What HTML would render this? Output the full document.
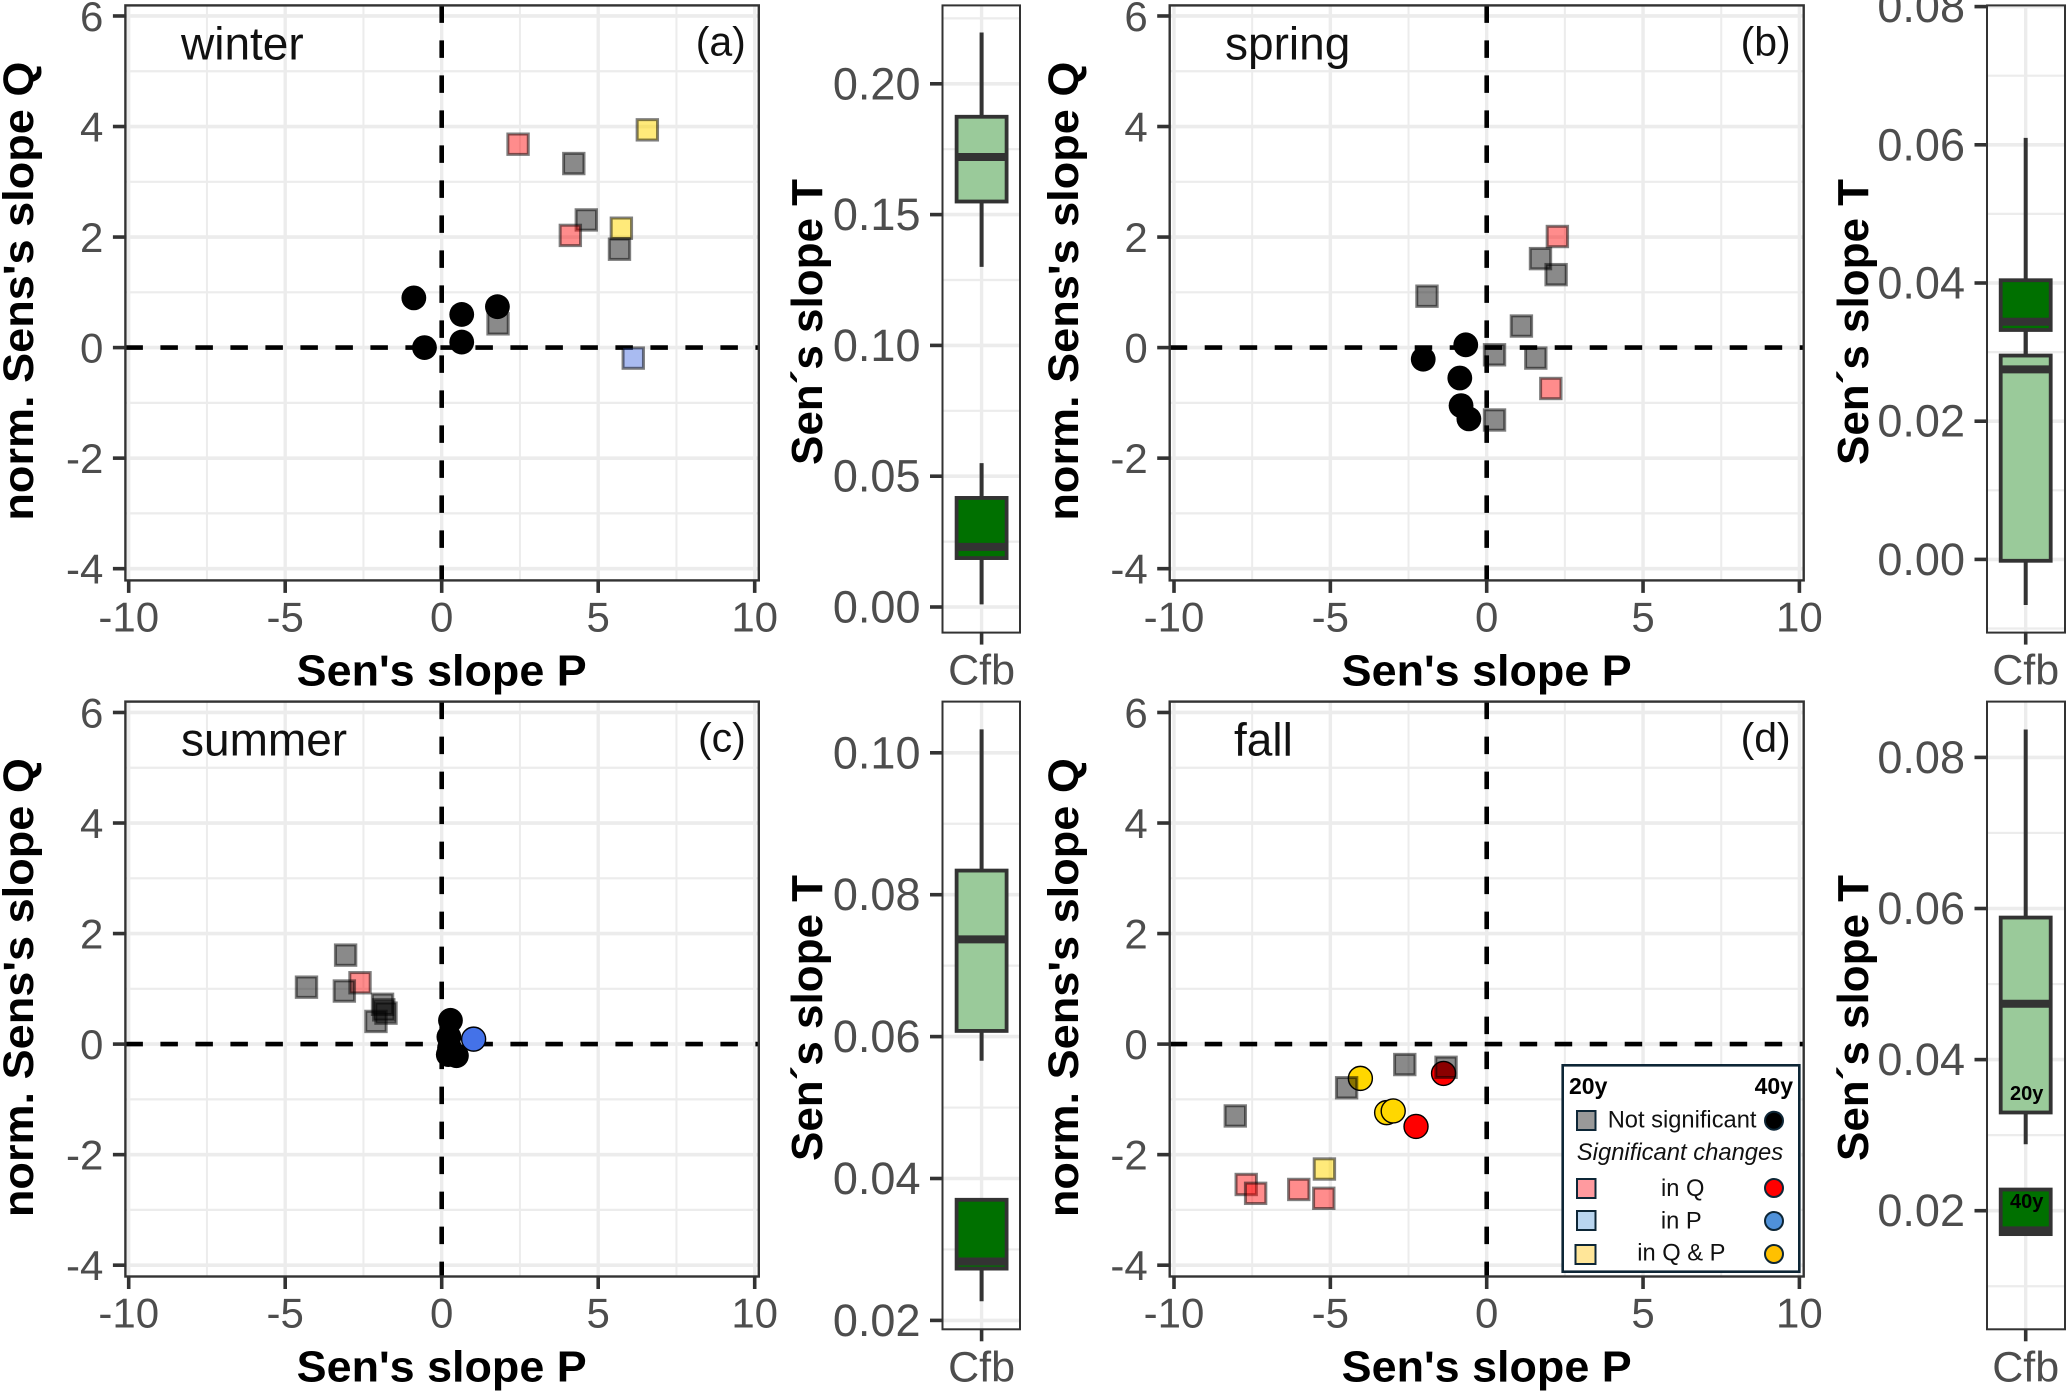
<!DOCTYPE html>
<html lang="en">
<head>
<meta charset="utf-8">
<title>Sen's slope seasonal panels</title>
<style>
html,body{margin:0;padding:0;background:#fff;width:2067px;height:1392px;overflow:hidden}
svg{display:block;font-family:"Liberation Sans",Arial,sans-serif}
</style>
</head>
<body>
<svg id="chart" xmlns="http://www.w3.org/2000/svg" width="2067" height="1392" viewBox="0 0 2067 1392">
<rect x="0" y="0" width="2067" height="1392" fill="#fff"/>
<g id="plots"></g>
<g id="legend">
  <rect x="1562.7" y="1065.3" width="236.6" height="206.4" fill="#fff" stroke="#0d2636" stroke-width="2.6"/>
  <text x="1569" y="1094" font-size="23" font-weight="bold" fill="#000">20y</text>
  <text x="1793" y="1094" font-size="23" font-weight="bold" fill="#000" text-anchor="end">40y</text>
  <rect x="1577" y="1111" width="18.5" height="19" fill="#999" stroke="#0d2636" stroke-width="2"/>
  <text x="1607.7" y="1127.3" font-size="23.7" fill="#111">Not significant</text>
  <circle cx="1774" cy="1120.7" r="9" fill="#000" stroke="#0d2636" stroke-width="2"/>
  <text x="1680" y="1160" font-size="23.8" font-style="italic" fill="#111" text-anchor="middle">Significant changes</text>
  <rect x="1577" y="1179" width="18.5" height="19" fill="#ff9a9f" stroke="#0d2636" stroke-width="2"/>
  <text x="1682.7" y="1196" font-size="23.7" fill="#111" text-anchor="middle">in Q</text>
  <circle cx="1774" cy="1188" r="9" fill="#f00" stroke="#0d2636" stroke-width="2"/>
  <rect x="1577" y="1211" width="18.5" height="19" fill="#b9d5ef" stroke="#0d2636" stroke-width="2"/>
  <text x="1681.3" y="1228.3" font-size="23.7" fill="#111" text-anchor="middle">in P</text>
  <circle cx="1774" cy="1221" r="9" fill="#4f91d9" stroke="#0d2636" stroke-width="2"/>
  <rect x="1575.5" y="1245" width="20" height="19" fill="#ffe699" stroke="#0d2636" stroke-width="2"/>
  <text x="1681.3" y="1260.7" font-size="23.7" fill="#111" text-anchor="middle">in Q &amp; P</text>
  <circle cx="1774" cy="1254" r="9" fill="#ffc000" stroke="#0d2636" stroke-width="2"/>
</g>
</svg>
<script>
const pTicks = [-10, -5, 0, 5, 10];
const qTicks = [-4, -2, 0, 2, 4, 6];
const boxCategories = ['Cfb'];

const seasonNames = ['winter', 'spring', 'summer', 'fall'];
const panelTags = ['(a)', '(b)', '(c)', '(d)'];

const winterSquareP = [2.44, 4.22, 6.57, 4.62, 5.74, 4.11, 5.68, 1.80, 6.12];
const winterSquareQ = [3.68, 3.33, 3.94, 2.31, 2.16, 2.03, 1.78, 0.43, -0.19];
const winterSquareKind = ['q', 'ns', 'qp', 'ns', 'qp', 'q', 'ns', 'ns', 'p'];
const winterCircleP = [-0.89, 0.64, 1.78, -0.55, 0.64];
const winterCircleQ = [0.90, 0.60, 0.74, 0.00, 0.10];
const winterCircleKind = ['ns', 'ns', 'ns', 'ns', 'ns'];

const springSquareP = [2.26, 1.72, 2.22, -1.91, 1.11, 0.25, 1.57, 2.05, 0.25];
const springSquareQ = [2.01, 1.61, 1.32, 0.93, 0.39, -0.13, -0.19, -0.74, -1.31];
const springSquareKind = ['q', 'ns', 'ns', 'ns', 'ns', 'ns', 'ns', 'q', 'ns'];
const springCircleP = [-0.67, -2.03, -0.86, -0.82, -0.57];
const springCircleQ = [0.05, -0.21, -0.55, -1.05, -1.29];
const springCircleKind = ['ns', 'ns', 'ns', 'ns', 'ns'];

const summerSquareP = [-3.07, -2.61, -4.32, -3.11, -1.89, -1.78, -1.85, -2.10];
const summerSquareQ = [1.61, 1.11, 1.03, 0.96, 0.72, 0.56, 0.62, 0.41];
const summerSquareKind = ['ns', 'q', 'ns', 'ns', 'ns', 'ns', 'ns', 'ns'];
const summerCircleP = [0.28, 0.23, 0.25, 0.21, 0.47, 1.02];
const summerCircleQ = [0.43, 0.13, -0.07, -0.19, -0.21, 0.09];
const summerCircleKind = ['ns', 'ns', 'ns', 'ns', 'ns', 'p'];

const fallSquareP = [-2.62, -1.30, -4.48, -8.04, -5.19, -7.69, -7.39, -6.01, -5.21];
const fallSquareQ = [-0.37, -0.42, -0.79, -1.30, -2.26, -2.54, -2.70, -2.63, -2.79];
const fallSquareKind = ['ns', 'ns', 'ns', 'ns', 'qp', 'q', 'q', 'q', 'q'];
const fallCircleP = [-4.04, -3.20, -2.99, -2.26, -1.38];
const fallCircleQ = [-0.62, -1.24, -1.21, -1.49, -0.53];
const fallCircleKind = ['qp', 'qp', 'qp', 'q', 'q'];

const winterBoxTicks = [0.00, 0.05, 0.10, 0.15, 0.20];
const springBoxTicks = [0.00, 0.02, 0.04, 0.06, 0.08];
const summerBoxTicks = [0.02, 0.04, 0.06, 0.08, 0.10];
const fallBoxTicks = [0.02, 0.04, 0.06, 0.08];

/* low whisker, q1, median, q3, high whisker */
const winterBox20y = [0.130, 0.155, 0.172, 0.1874, 0.2196];
const winterBox40y = [0.001, 0.0187, 0.023, 0.0417, 0.055];
const springBox20y = [-0.0066, -0.0002, 0.0275, 0.0295, 0.0332];
const springBox40y = [0.0296, 0.0332, 0.0344, 0.0404, 0.061];
const summerBox20y = [0.0566, 0.0608, 0.0737, 0.0834, 0.1033];
const summerBox40y = [0.0227, 0.0273, 0.0283, 0.0370, 0.0370];
const fallBox20y = [0.0288, 0.0330, 0.0474, 0.0588, 0.0837];
const fallBox40y = [0.0169, 0.0169, 0.0174, 0.0228, 0.0228];

const NS = 'http://www.w3.org/2000/svg';
const plots = document.getElementById('plots');
const fills = {
  ns: 'rgba(0,0,0,0.46)',
  q: 'rgba(255,0,0,0.45)',
  p: 'rgba(65,105,225,0.45)',
  qp: 'rgba(255,215,0,0.52)'
};
const circleFills = { ns: '#000', q: '#f00', p: '#4472e8', qp: '#ffd700' };
const GRID = '#ececec', AXIS = '#333', LABEL = '#4d4d4d';

function make(parent, tag, attrs, content) {
  const el = document.createElementNS(NS, tag);
  for (const k in attrs) el.setAttribute(k, attrs[k]);
  if (content !== undefined) el.textContent = content;
  parent.appendChild(el);
  return el;
}
function group(parent, name) {
  const g = make(parent, 'g', {});
  
  
  return g;
}
function line(parent, name, x1, y1, x2, y2, stroke, w, extra) {
  const el = make(parent, 'line', Object.assign({ x1: x1, y1: y1, x2: x2, y2: y2, stroke: stroke, 'stroke-width': w }, extra || {}));
  
  
  return el;
}
function label(parent, name, x, y, text, size, attrs) {
  const el = make(parent, 'text', Object.assign({ x: x, y: y, 'font-size': size }, attrs || {}), text);
  
  
  return el;
}

function drawScatter(cfg) {
  const g = group(plots, cfg.season + '-scatter-panel');
  const X = v => cfg.x0 + v * cfg.kx;
  const Y = v => cfg.y0 - v * 55.27;
  const cid = 'clip-' + cfg.season;
  const defs = make(g, 'defs', {});
  const cp = make(defs, 'clipPath', { id: cid });
  make(cp, 'rect', { x: cfg.left, y: cfg.top, width: cfg.right - cfg.left, height: cfg.bottom - cfg.top });
  const inner = make(g, 'g', { 'clip-path': 'url(#' + cid + ')' });
  
  

  for (let i = 0; i < pTicks.length - 1; i++) {
    const mid = (pTicks[i] + pTicks[i + 1]) / 2;
    line(inner, 'x-minor-grid', X(mid), cfg.top, X(mid), cfg.bottom, GRID, 2);
  }
  for (let i = 0; i < qTicks.length - 1; i++) {
    const mid = (qTicks[i] + qTicks[i + 1]) / 2;
    line(inner, 'y-minor-grid', cfg.left, Y(mid), cfg.right, Y(mid), GRID, 2.2);
  }
  pTicks.forEach(t => line(inner, 'x-major-grid', X(t), cfg.top, X(t), cfg.bottom, GRID, 3.4));
  qTicks.forEach(t => line(inner, 'y-major-grid', cfg.left, Y(t), cfg.right, Y(t), GRID, 3.6));

  line(inner, 'zero-line-horizontal', cfg.left, Y(0), cfg.right, Y(0), '#000', 4.6, { 'stroke-dasharray': '17.5 17.5' });
  line(inner, 'zero-line-vertical', X(0), cfg.top, X(0), cfg.bottom, '#000', 4.6, { 'stroke-dasharray': '17.5 17.5' });

  cfg.circleP.forEach((p, i) => {
    const kind = cfg.circleKind[i];
    const c = make(inner, 'circle', { cx: X(p), cy: Y(cfg.circleQ[i]), r: kind === 'ns' ? 12.4 : 12, fill: circleFills[kind], stroke: '#000', 'stroke-width': kind === 'ns' ? 0 : 1.4 });
    
    
  });
  cfg.squareP.forEach((p, i) => {
    const kind = cfg.squareKind[i];
    const s = make(inner, 'rect', { x: X(p) - 10.2, y: Y(cfg.squareQ[i]) - 10.2, width: 20.4, height: 20.4, fill: fills[kind], stroke: 'rgba(0,0,0,0.5)', 'stroke-width': 3 });
    
    
  });

  const border = make(g, 'rect', { x: cfg.left, y: cfg.top, width: cfg.right - cfg.left, height: cfg.bottom - cfg.top, fill: 'none', stroke: AXIS, 'stroke-width': 2.4 });
  
  

  pTicks.forEach(t => {
    line(g, 'x-tick', X(t), cfg.bottom, X(t), cfg.bottom + 12.5, AXIS, 3.6);
    label(g, 'x-tick-label', X(t), cfg.bottom + 51, String(t), 42, { fill: LABEL, 'text-anchor': 'middle' });
  });
  qTicks.forEach(t => {
    line(g, 'y-tick', cfg.left - 12.5, Y(t), cfg.left, Y(t), AXIS, 3.6);
    label(g, 'y-tick-label', cfg.left - 22, Y(t) + 15, String(t), 42, { fill: LABEL, 'text-anchor': 'end' });
  });
  label(g, 'x-axis-title', X(0), cfg.bottom + 105, "Sen's slope P", 44, { 'font-weight': 'bold', fill: '#000', 'text-anchor': 'middle', textLength: 290, lengthAdjust: 'spacingAndGlyphs' });
  label(g, 'y-axis-title', 0, 0, "norm. Sens's slope Q", 42.5, { 'font-weight': 'bold', fill: '#000', 'text-anchor': 'middle', textLength: 459, lengthAdjust: 'spacingAndGlyphs', transform: 'translate(' + cfg.yTitleX + ',' + (cfg.y0 - 56.5) + ') rotate(-90)' });
  label(g, 'season-label', cfg.seasonX, cfg.top + 54, cfg.season, 46, { fill: '#111' });
  label(g, 'panel-letter', cfg.right - 13, cfg.top + 50, cfg.tag, 41, { fill: '#111', 'text-anchor': 'end' });
}

function drawBox(cfg) {
  const g = group(plots, cfg.season + '-temperature-boxplot');
  const Y = v => cfg.y0 - v * cfg.ky;
  const cid = 'clip-box-' + cfg.season;
  const defs = make(g, 'defs', {});
  const cp = make(defs, 'clipPath', { id: cid });
  make(cp, 'rect', { x: cfg.left, y: cfg.top, width: cfg.right - cfg.left, height: cfg.bottom - cfg.top });
  const inner = make(g, 'g', { 'clip-path': 'url(#' + cid + ')' });
  
  

  const step = cfg.ticks[1] - cfg.ticks[0];
  for (let k = -1; k < cfg.ticks.length; k++) {
    const mid = cfg.ticks[0] + (k + 0.5) * step;
    line(inner, 'y-minor-grid', cfg.left, Y(mid), cfg.right, Y(mid), GRID, 2.2);
  }
  cfg.ticks.forEach(t => line(inner, 'y-major-grid', cfg.left, Y(t), cfg.right, Y(t), GRID, 3.6));
  line(inner, 'x-major-grid', cfg.center, cfg.top, cfg.center, cfg.bottom, GRID, 3.4);

  function drawOne(vals, fill, name) {
    const b = group(inner, name);
    line(b, 'whisker', cfg.center, Y(vals[0]), cfg.center, Y(vals[4]), AXIS, 4);
    const rect = make(b, 'rect', { x: cfg.center - 25, y: Y(vals[3]), width: 50, height: Y(vals[1]) - Y(vals[3]), fill: fill, stroke: AXIS, 'stroke-width': 3.8 });
    
    
    line(b, 'median', cfg.center - 25, Y(vals[2]), cfg.center + 25, Y(vals[2]), AXIS, 8);
  }
  drawOne(cfg.box20, '#9aca9a', 'box-20y');
  drawOne(cfg.box40, '#007000', 'box-40y');

  const border = make(g, 'rect', { x: cfg.left, y: cfg.top, width: cfg.right - cfg.left, height: cfg.bottom - cfg.top, fill: 'none', stroke: AXIS, 'stroke-width': 2 });
  
  

  cfg.ticks.forEach(t => {
    line(g, 'y-tick', cfg.left - 12.5, Y(t), cfg.left, Y(t), AXIS, 3.6);
    label(g, 'y-tick-label', cfg.left - 22, Y(t) + 15.5, t.toFixed(2), 45, { fill: LABEL, 'text-anchor': 'end' });
  });
  line(g, 'x-tick', cfg.center, cfg.bottom, cfg.center, cfg.bottom + 12, AXIS, 3.6);
  label(g, 'x-tick-label', cfg.center, cfg.bottom + 52, boxCategories[0], 43, { fill: LABEL, 'text-anchor': 'middle' });
  label(g, 'y-axis-title', 0, 0, 'Sen\u00b4s slope T', 44, { 'font-weight': 'bold', fill: '#000', 'text-anchor': 'middle', transform: 'translate(' + cfg.titleX + ',' + cfg.titleY + ') rotate(-90)' });
  if (cfg.annot) {
    label(g, 'box-20y-label', cfg.center + 1, 1100, '20y', 20, { 'font-weight': 'bold', fill: '#000', 'text-anchor': 'middle' });
    label(g, 'box-40y-label', cfg.center + 1, 1208, '40y', 20, { 'font-weight': 'bold', fill: '#000', 'text-anchor': 'middle' });
  }
}

const leftCol = { left: 125.4, right: 758.8, x0: 441.7, kx: 31.3, yTitleX: 33 };
const rightCol = { left: 1169.7, right: 1803.7, x0: 1486.7, kx: 31.27, yTitleX: 1078 };
const topRow = { top: 5.4, bottom: 580.4, y0: 347.6 };
const botRow = { top: 701.6, bottom: 1276.5, y0: 1044.1 };

drawScatter(Object.assign({}, leftCol, topRow, { season: seasonNames[0], tag: panelTags[0], seasonX: 181, squareP: winterSquareP, squareQ: winterSquareQ, squareKind: winterSquareKind, circleP: winterCircleP, circleQ: winterCircleQ, circleKind: winterCircleKind }));
drawScatter(Object.assign({}, rightCol, topRow, { season: seasonNames[1], tag: panelTags[1], seasonX: 1225, squareP: springSquareP, squareQ: springSquareQ, squareKind: springSquareKind, circleP: springCircleP, circleQ: springCircleQ, circleKind: springCircleKind }));
drawScatter(Object.assign({}, leftCol, botRow, { season: seasonNames[2], tag: panelTags[2], seasonX: 181, squareP: summerSquareP, squareQ: summerSquareQ, squareKind: summerSquareKind, circleP: summerCircleP, circleQ: summerCircleQ, circleKind: summerCircleKind }));
drawScatter(Object.assign({}, rightCol, botRow, { season: seasonNames[3], tag: panelTags[3], seasonX: 1234, squareP: fallSquareP, squareQ: fallSquareQ, squareKind: fallSquareKind, circleP: fallCircleP, circleQ: fallCircleQ, circleKind: fallCircleKind }));

const boxLeft = { left: 942.5, right: 1020, center: 981.6, titleX: 822 };
const boxRight = { left: 1987, right: 2065, center: 2025.7, titleX: 1868 };

drawBox(Object.assign({}, boxLeft, topRow, { season: seasonNames[0], y0: 607, ky: 2616, bottom: 632.6, titleY: 322, ticks: winterBoxTicks, box20: winterBox20y, box40: winterBox40y }));
drawBox(Object.assign({}, boxRight, topRow, { season: seasonNames[1], y0: 559.4, ky: 6910, bottom: 632.6, titleY: 322, ticks: springBoxTicks, box20: springBox20y, box40: springBox40y }));
drawBox(Object.assign({}, boxLeft, botRow, { season: seasonNames[2], y0: 1462.3, ky: 7095, bottom: 1329.3, titleY: 1018, ticks: summerBoxTicks, box20: summerBox20y, box40: summerBox40y }));
drawBox(Object.assign({}, boxRight, botRow, { season: seasonNames[3], y0: 1361.8, ky: 7555, bottom: 1329.3, titleY: 1018, ticks: fallBoxTicks, box20: fallBox20y, box40: fallBox40y, annot: true }));

/* legend sits on top of the fall panel */
document.getElementById('chart').appendChild(document.getElementById('legend'));
</script>
</body>
</html>
